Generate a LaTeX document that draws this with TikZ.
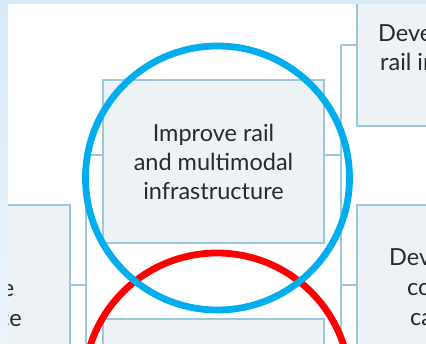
\documentclass[tikz,border=0pt]{standalone}
\usepackage{fontspec}
\setmainfont{Lato}
\definecolor{boxfill}{HTML}{EDF2F5}
\definecolor{boxline}{HTML}{9DC7DD}
\definecolor{strip}{HTML}{DAEAF7}
\definecolor{striplow}{HTML}{ECF4FA}
\definecolor{cblue}{HTML}{00AEEF}
\definecolor{cred}{HTML}{FF0000}
\definecolor{txt}{HTML}{2A2A2A}
\tikzset{
  box/.style={draw=boxline, fill=boxfill, line width=1.3pt},
  conn/.style={draw=boxline, line width=1.3pt},
  lbl/.style={text=txt, font=\fontsize{23.5}{29}\selectfont, inner sep=0pt, align=center},
  ring/.style={line width=6.8pt}
}
\begin{document}
\begin{tikzpicture}[x=1pt,y=-1pt]
\useasboundingbox (0,0) rectangle (426,343);
\clip (0,0) rectangle (426,343);
\fill[white] (0,0) rectangle (426,343);
% boxes
\path[box] (103,80) rectangle (324,243);
\node[lbl] (mid) at (213.5,162) {Improve rail\\and multimodal\\infrastructure};
\path[box] (103,319) rectangle (324,360);
\path[box] (-20,205) rectangle (70,360);
\node[lbl, anchor=base east] (lt1) at (14.5,296) {e};
\node[lbl, anchor=base east] (lt2) at (22,326) {ce};
\path[box] (357,-10) rectangle (460,126);
\node[lbl, anchor=base west] (rt1) at (378,41) {Develop};
\node[lbl, anchor=base west] (rt2) at (380,70) {rail infra};
\path[box] (357,205) rectangle (460,360);
\node[lbl, anchor=base west] (rb1) at (389,265) {Develop};
\node[lbl, anchor=base west] (rb2) at (407,295) {co};
\node[lbl, anchor=base west] (rb3) at (410,325) {ca};
% connectors
\coordinate (lA) at (86,155);
\coordinate (lB) at (86,285);
\coordinate (lC) at (86,360);
\coordinate (rA) at (341,45);
\coordinate (rB) at (341,155);
\coordinate (rC) at (341,285);
\coordinate (rD) at (341,360);
\path[conn] (lA) -- (lC);
\path[conn] (lA) -- (103,155);
\path[conn] (70,285) -- (lB);
\path[conn] (rA) -- (rD);
\path[conn] (324,155) -- (rB);
\path[conn] (rA) -- (357,45);
\path[conn] (rC) -- (357,285);
% circles
\draw[ring, cred] (217,386) circle[radius=133];
\draw[ring, cblue] (217.5,178) circle[radius=132];
% page strips
\shade[top color=strip, bottom color=striplow] (0,0) rectangle (8,343);
\fill[strip] (0,0) rectangle (426,4);
\end{tikzpicture}
\end{document}
